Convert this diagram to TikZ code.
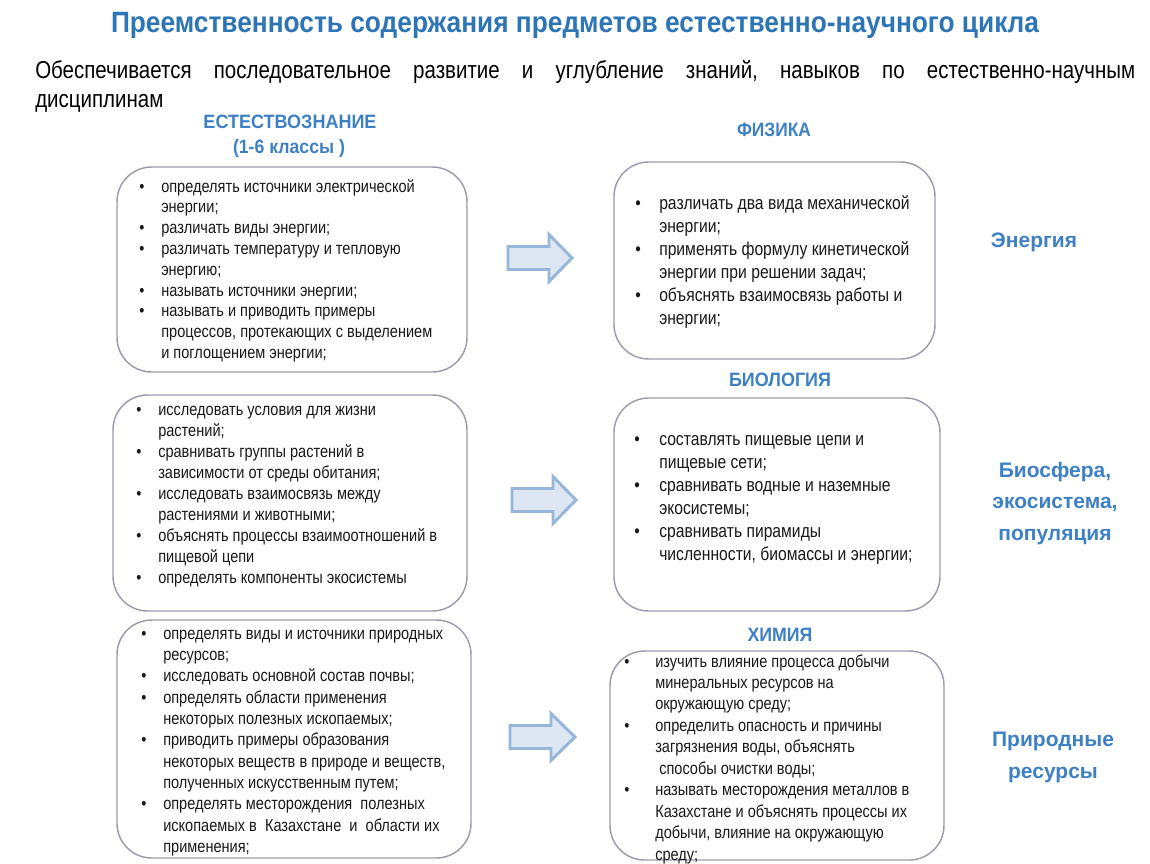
\documentclass[tikz,border=0pt]{standalone}
\usepackage{fontspec}
\usepackage{graphicx}
\setmainfont{Liberation Sans}
\newfontfamily\narrow[FakeStretch=0.84]{Liberation Sans}
\frenchspacing
\definecolor{ttl}{RGB}{46,117,182}
\definecolor{hdr}{RGB}{62,128,196}
\definecolor{bord}{RGB}{160,155,172}
\definecolor{arrfill}{RGB}{221,231,243}
\definecolor{arrdraw}{RGB}{150,182,218}
\newcommand\bu[1]{\makebox[#1][l]{\textbullet}}
\newcommand\ind[1]{\hspace*{#1}}
\newcommand\barrow[3]{%
  \draw[blockarrow] (#1,{#3-11.5}) -- ({#1+41},{#3-11.5}) -- ({#1+41},{#3-23.5}) -- (#2,#3)
    -- ({#1+41},{#3+23.5}) -- ({#1+41},{#3+11.5}) -- (#1,{#3+11.5}) -- cycle;}
\tikzset{
  box/.style={draw=bord, line width=1.1pt, rounded corners=26pt, inner sep=0pt},
  txt/.style={anchor=base west, inner sep=0pt, text=black!90},
  hd/.style={anchor=base, inner sep=0pt, text=hdr, font=\bfseries\fontsize{14.5}{17}\selectfont},
  lab/.style={anchor=base, inner sep=0pt, text=hdr, font=\bfseries\fontsize{15.75}{24}\selectfont},
  blockarrow/.style={fill=arrfill, draw=arrdraw, line width=2.2pt, line join=miter}
}
\begin{document}
\begin{tikzpicture}[x=0.75pt,y=-0.75pt]
\useasboundingbox (0,0) rectangle (1150,864);
\fill[white] (0,0) rectangle (1150,864);

% title and subtitle
\node[anchor=base, inner sep=0pt, text=ttl] (title) at (575,32)
  {\resizebox{696pt}{\height}{\bfseries\fontsize{22}{26}\selectfont Преемственность содержания предметов естественно-научного цикла}};
\node[anchor=base west, inner sep=0pt] (sub1) at (35,78)
  {\narrow\fontsize{18.3}{22}\selectfont\makebox[825pt][s]{Обеспечивается последовательное развитие и углубление знаний, навыков по естественно-научным}};
\node[anchor=base west, inner sep=0pt] (sub2) at (35,107)
  {\narrow\fontsize{18.3}{22}\selectfont дисциплинам};

% headers
\node[hd] (h1) at (290,128) {\resizebox{129.75pt}{\height}{ЕСТЕСТВОЗНАНИЕ}};
\node[hd] (h1b) at (289,153) {\resizebox{84pt}{\height}{(1-6 классы )}};
\node[hd] (h2) at (774,136) {\resizebox{55.5pt}{\height}{ФИЗИКА}};
\node[hd] (h3) at (780,386) {\resizebox{76.5pt}{\height}{БИОЛОГИЯ}};
\node[hd] (h4) at (780,641) {\resizebox{48.75pt}{\height}{ХИМИЯ}};

% boxes
\node[box, minimum width=262.5pt, minimum height=153.75pt] (b1l) at (292,269.5) {};
\node[box, minimum width=240.75pt, minimum height=147.75pt] (b1r) at (774.5,260.5) {};
\node[box, minimum width=265.5pt, minimum height=162pt] (b2l) at (290,503) {};
\node[box, minimum width=244.5pt, minimum height=159.75pt] (b2r) at (777,504.5) {};
\node[box, minimum width=265.5pt, minimum height=178.5pt] (b3l) at (294,739) {};
\node[box, minimum width=250.5pt, minimum height=156.75pt] (b3r) at (777,755.5) {};

% box texts
\node[txt, font={\narrow\fontsize{13}{15.6}\selectfont}] (t1l) at (139,192) {%
\begin{tabular}[t]{@{}l@{}}
\bu{16.5pt}определять источники электрической\\
\ind{16.5pt}энергии;\\
\bu{16.5pt}различать виды энергии;\\
\bu{16.5pt}различать температуру и тепловую\\
\ind{16.5pt}энергию;\\
\bu{16.5pt}называть источники энергии;\\
\bu{16.5pt}называть и приводить примеры\\
\ind{16.5pt}процессов, протекающих с выделением\\
\ind{16.5pt}и поглощением энергии;
\end{tabular}};

\node[txt, font={\narrow\fontsize{14}{17.25}\selectfont}] (t1r) at (635,209) {%
\begin{tabular}[t]{@{}l@{}}
\bu{18pt}различать два вида механической\\
\ind{18pt}энергии;\\
\bu{18pt}применять формулу кинетической\\
\ind{18pt}энергии при решении задач;\\
\bu{18pt}объяснять взаимосвязь работы и\\
\ind{18pt}энергии;
\end{tabular}};

\node[txt, font={\narrow\fontsize{13}{15.75}\selectfont}] (t2l) at (136,415) {%
\begin{tabular}[t]{@{}l@{}}
\bu{16.5pt}исследовать условия для жизни\\
\ind{16.5pt}растений;\\
\bu{16.5pt}сравнивать группы растений в\\
\ind{16.5pt}зависимости от среды обитания;\\
\bu{16.5pt}исследовать взаимосвязь между\\
\ind{16.5pt}растениями и животными;\\
\bu{16.5pt}объяснять процессы взаимоотношений в\\
\ind{16.5pt}пищевой цепи\\
\bu{16.5pt}определять компоненты экосистемы
\end{tabular}};

\node[txt, font={\narrow\fontsize{14}{17.25}\selectfont}] (t2r) at (634,445) {%
\begin{tabular}[t]{@{}l@{}}
\bu{18.75pt}составлять пищевые цепи и\\
\ind{18.75pt}пищевые сети;\\
\bu{18.75pt}сравнивать водные и наземные\\
\ind{18.75pt}экосистемы;\\
\bu{18.75pt}сравнивать пирамиды\\
\ind{18.75pt}численности, биомассы и энергии;
\end{tabular}};

\node[txt, font={\narrow\fontsize{13}{16}\selectfont}] (t3l) at (141,639) {%
\begin{tabular}[t]{@{}l@{}}
\bu{16.5pt}определять виды и источники природных\\
\ind{16.5pt}ресурсов;\\
\bu{16.5pt}исследовать основной состав почвы;\\
\bu{16.5pt}определять области применения\\
\ind{16.5pt}некоторых полезных ископаемых;\\
\bu{16.5pt}приводить примеры образования\\
\ind{16.5pt}некоторых веществ в природе и веществ,\\
\ind{16.5pt}полученных искусственным путем;\\
\bu{16.5pt}определять месторождения\ \ полезных\\
\ind{16.5pt}ископаемых в\ \ Казахстане\ \ и\ \ области их\\
\ind{16.5pt}применения;
\end{tabular}};

\node[txt, font={\narrow\fontsize{13}{16.1}\selectfont}] (t3r) at (624,667) {%
\begin{tabular}[t]{@{}l@{}}
\bu{23.25pt}изучить влияние процесса добычи\\
\ind{23.25pt}минеральных ресурсов на\\
\ind{23.25pt}окружающую среду;\\
\bu{23.25pt}определить опасность и причины\\
\ind{23.25pt}загрязнения воды, объяснять\\
\ind{26.25pt}способы очистки воды;\\
\bu{23.25pt}называть месторождения металлов в\\
\ind{23.25pt}Казахстане и объяснять процессы их\\
\ind{23.25pt}добычи, влияние на окружающую\\
\ind{23.25pt}среду;
\end{tabular}};

% block arrows
\barrow{508}{572}{258}
\barrow{512}{576}{500}
\barrow{510}{575}{737}

% right labels
\node[lab] (l1) at (1034,247) {Энергия};
\node[lab] (l2) at (1055,477) {\begin{tabular}[t]{@{}c@{}}Биосфера,\\[-0.4pt]экосистема,\\популяция\end{tabular}};
\node[lab] (l3) at (1053,746) {\begin{tabular}[t]{@{}c@{}}Природные\\ресурсы\end{tabular}};
\end{tikzpicture}
\end{document}
